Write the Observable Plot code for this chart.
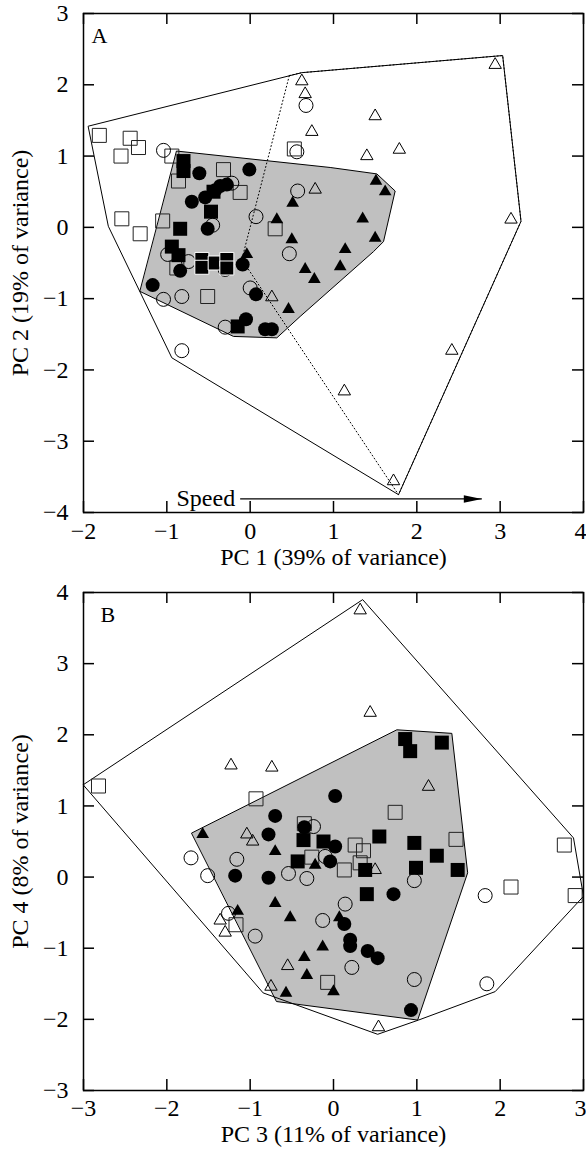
<!DOCTYPE html>
<html><head><meta charset="utf-8">
<script src="https://cdn.jsdelivr.net/npm/d3@7"></script>
<script src="https://cdn.jsdelivr.net/npm/@observablehq/plot@0.6"></script>
<style>body{margin:0;background:#fff;} #chart svg{display:block;}</style>
</head><body><div id="chart"></div>
<script>
// ---------- Panel A data (PC1, PC2) ----------
const aOpenSquares = [[-1.81,1.29],[-1.44,1.25],[-1.34,1.12],[-1.55,1.0],[-0.94,1.0],[-0.86,0.65],[-0.32,0.81],[-0.12,0.49],[0.53,1.10],[-1.54,0.12],[-1.32,-0.09],[-1.05,0.09],[0.30,-0.02],[-0.88,-0.57],[-0.51,-0.97]];
const aFilledSquares = [[-0.80,0.93],[-0.80,0.79],[-0.44,0.50],[-0.47,0.22],[-0.84,-0.02],[-0.94,-0.27],[-0.86,-0.39],[-0.15,-1.39]];
const aFilledSquaresEdged = [[-0.58,-0.45],[-0.58,-0.56],[-0.42,-0.50],[-0.28,-0.45],[-0.28,-0.57]];
const aOpenCircles = [[-1.04,1.08],[0.56,1.06],[0.67,1.71],[-0.22,0.62],[0.57,0.51],[0.07,0.15],[-0.45,0.03],[0.47,-0.37],[-0.99,-0.38],[-0.74,-0.48],[-0.30,-0.59],[0.0,-0.85],[-1.04,-1.01],[-0.82,-0.97],[-0.30,-1.40],[-0.82,-1.73]];
const aFilledCircles = [[-0.61,0.76],[-0.01,0.81],[-0.70,0.36],[-0.54,0.42],[-0.42,0.52],[-0.36,0.58],[-0.28,0.60],[-0.51,-0.02],[-0.84,-0.61],[-1.17,-0.81],[-0.09,-0.52],[0.07,-0.94],[-0.05,-1.29],[0.18,-1.43],[0.26,-1.43]];
const aOpenTriangles = [[0.62,2.05],[0.66,1.87],[0.74,1.34],[0.78,0.53],[1.50,1.56],[1.40,1.0],[1.79,1.09],[2.94,2.28],[3.13,0.11],[2.42,-1.73],[1.13,-2.30],[1.72,-3.56],[0.26,-0.98]];
const aFilledTriangles = [[0.51,0.34],[0.32,0.11],[0.50,-0.17],[-0.04,-0.38],[0.66,-0.59],[0.77,-0.73],[0.46,-1.15],[1.51,0.65],[1.62,0.50],[1.35,0.12],[1.50,-0.15],[1.14,-0.31],[1.08,-0.55]];
const aOuterHull = [[-1.94,1.42],[0.62,2.17],[3.03,2.41],[3.25,0.085],[1.78,-3.75],[-0.94,-1.83],[-1.70,0.01]];
const aFilledHull = [[-0.88,1.07],[0.96,0.84],[1.52,0.75],[1.74,0.51],[1.60,-0.20],[1.48,-0.34],[0.60,-1.25],[0.32,-1.55],[-0.20,-1.53],[-1.32,-0.90]];
const aTriangleHull = [[0.47,2.13],[0.62,2.17],[3.03,2.41],[3.25,0.085],[1.78,-3.75],[-0.10,-0.45]];
const aSpeed = [{label:"Speed", x1:-0.12, x2:2.78, y:-3.81}];

// ---------- Panel B data (PC3, PC4) ----------
const bOpenSquares = [[-2.82,1.28],[-0.93,1.10],[-0.35,0.75],[-0.26,0.28],[0.74,0.91],[1.47,0.53],[0.26,0.45],[0.36,0.37],[0.32,0.20],[0.13,0.10],[-1.17,-0.67],[-0.07,-1.48],[2.13,-0.14],[2.77,0.45],[2.90,-0.26]];
const bFilledSquares = [[0.86,1.94],[0.92,1.77],[1.30,1.89],[0.55,0.57],[0.97,0.48],[1.24,0.30],[0.99,0.13],[1.49,0.10],[0.38,0.10],[0.40,-0.24],[-0.36,0.52],[-0.12,0.50],[-0.43,0.22]];
const bOpenCircles = [[-0.24,0.71],[-0.10,0.29],[-1.71,0.27],[-1.16,0.25],[-1.51,0.02],[-0.54,0.05],[-0.32,-0.02],[0.97,-0.05],[0.14,-0.38],[-0.13,-0.61],[0.22,-1.27],[0.97,-1.44],[-1.26,-0.51],[-0.94,-0.83],[1.82,-0.26],[1.84,-1.50]];
const bFilledCircles = [[-0.70,0.86],[-0.78,0.60],[-0.35,0.70],[0.02,0.43],[-0.04,0.22],[0.02,1.14],[-1.18,0.02],[-0.78,-0.01],[0.72,-0.24],[0.13,-0.66],[0.20,-0.88],[0.20,-0.97],[0.41,-1.04],[0.53,-1.14],[0.93,-1.87]];
const bOpenTriangles = [[-1.23,1.57],[-0.74,1.54],[-1.04,0.60],[-0.97,0.50],[0.44,2.31],[0.32,3.75],[1.14,1.27],[0.50,0.10],[-0.55,-1.25],[-0.75,-1.54],[0.54,-2.11],[-1.36,-0.61],[-1.30,-0.78]];
const bFilledTriangles = [[-1.57,0.60],[-0.70,0.36],[-0.22,0.17],[-0.70,-0.37],[-0.52,-0.57],[0.07,-0.57],[-0.13,-0.98],[-0.35,-1.13],[-0.32,-1.38],[0.0,-1.61],[-0.57,-1.63],[-1.15,-0.48]];
const bOuterHull = [[-3.0,1.30],[0.35,3.90],[2.88,0.55],[3.0,-0.27],[1.94,-1.61],[1.02,-2.01],[0.53,-2.21],[-0.84,-1.63]];
const bFilledHull = [[-1.70,0.62],[0.76,2.07],[1.42,2.02],[1.61,0.06],[1.01,-2.01],[-0.68,-1.75]];

// ---------- axes ----------
const aXTicks = [-2,-1,0,1,2,3,4];
const aYTicks = [-4,-3,-2,-1,0,1,2,3];
const bXTicks = [-3,-2,-1,0,1,2,3];
const bYTicks = [-3,-2,-1,0,1,2,3,4];

const W = 586;
const FONT = "'Liberation Serif', 'Times New Roman', serif";
const FS = 24;
const X = d => d[0], Y = d => d[1];
const fmt = d3.format("d");
const arrowHead = {draw(ctx){ctx.moveTo(0,0);ctx.lineTo(-18,-3.8);ctx.lineTo(-18,3.8);ctx.closePath();}};

function panel(c) {
  const ml = 83, mr = 3, tk = 11;
  const plotW = W - ml - mr, plotH = c.height - c.mt - c.mb;
  const marks = [
    Plot.line(c.filledHull, {x: X, y: Y, curve: "linear-closed", fill: "#c0c0c0", stroke: "black", strokeWidth: 1}),
    Plot.line(c.outerHull, {x: X, y: Y, curve: "linear-closed", stroke: "black", strokeWidth: 1})
  ];
  if (c.triHull) marks.push(Plot.line(c.triHull, {x: X, y: Y, curve: "linear-closed", stroke: "black", strokeWidth: 1, strokeDasharray: "1,2.6"}));
  const open = {fill: "none", stroke: "black", strokeWidth: 1};
  const solid = {fill: "black", stroke: "none"};
  marks.push(
    Plot.dot(c.openSquares, {x: X, y: Y, symbol: "square", r: 7.9, ...open, stroke: "#222"}),
    Plot.dot(c.openCircles, {x: X, y: Y, symbol: "circle", r: 7, ...open}),
    Plot.dot(c.openTriangles, {x: X, y: Y, symbol: "triangle", r: 4.6, ...open}),
    Plot.dot(c.filledSquares, {x: X, y: Y, symbol: "square", r: 7.9, ...solid}),
    Plot.dot(c.filledCircles, {x: X, y: Y, symbol: "circle", r: 7, ...solid}),
    Plot.dot(c.filledTriangles, {x: X, y: Y, symbol: "triangle", r: 4.7, ...solid})
  );
  if (c.edgedSquares) marks.push(Plot.dot(c.edgedSquares, {x: X, y: Y, symbol: "square", r: 7.9, fill: "black", stroke: "white", strokeWidth: 1}));
  if (c.speed) {
    marks.push(
      Plot.link(c.speed, {x1: "x1", x2: "x2", y1: "y", y2: "y", stroke: "black", strokeWidth: 1.3}),
      Plot.dot(c.speed, {x: "x2", y: "y", symbol: arrowHead, fill: "black", stroke: "none"}),
      Plot.text(c.speed, {x: "x1", y: "y", text: "label", textAnchor: "end", dx: -5, dy: -1, fontSize: FS})
    );
  }
  const xMain = c.xTicks.slice(0, -1), xLast = c.xTicks.slice(-1);
  marks.push(
    Plot.frame({stroke: "black", strokeWidth: 1.5}),
    Plot.tickX(c.xTicks, {x: d => d, insetTop: plotH - tk, strokeWidth: 1.5}),
    Plot.tickX(c.xTicks, {x: d => d, insetBottom: plotH - tk, strokeWidth: 1.5}),
    Plot.tickY(c.yTicks, {y: d => d, insetRight: plotW - tk, strokeWidth: 1.5}),
    Plot.tickY(c.yTicks, {y: d => d, insetLeft: plotW - tk, strokeWidth: 1.5}),
    Plot.axisX(xMain, {anchor: "bottom", tickSize: 0, tickPadding: c.xPad, tickFormat: fmt, label: null, fontSize: FS}),
    Plot.axisX(xLast, {anchor: "bottom", tickSize: 0, tickPadding: c.xPad, tickFormat: fmt, label: null, fontSize: FS, textAnchor: "end", dx: 3}),
    Plot.axisY(c.yTicks, {anchor: "left", tickSize: 0, tickPadding: 15, tickFormat: fmt, label: null, fontSize: FS}),
    Plot.text([c.xLabel], {frameAnchor: "bottom", textAnchor: "middle", lineAnchor: "middle", dy: c.xLabelDy, fontSize: FS}),
    Plot.text([c.yLabel], {frameAnchor: "left", textAnchor: "middle", lineAnchor: "middle", rotate: -90, dx: -63, fontSize: FS}),
    Plot.text([c.letter], {frameAnchor: "top-left", textAnchor: "start", lineAnchor: "top", dx: c.letterDx, dy: c.letterDy, fontSize: 22})
  );
  return Plot.plot({
    width: W, height: c.height, marginTop: c.mt, marginBottom: c.mb, marginLeft: ml, marginRight: mr,
    x: {domain: c.xDomain}, y: {domain: c.yDomain},
    style: {fontFamily: FONT, fontSize: FS + "px", background: "white", color: "black", overflow: "visible"},
    marks
  });
}

const chart = document.getElementById("chart");
chart.appendChild(panel({
  height: 575, mt: 13, mb: 63, xDomain: [-2,4], yDomain: [-4,3], xTicks: aXTicks, yTicks: aYTicks,
  openSquares: aOpenSquares, filledSquares: aFilledSquares, edgedSquares: aFilledSquaresEdged,
  openCircles: aOpenCircles, filledCircles: aFilledCircles,
  openTriangles: aOpenTriangles, filledTriangles: aFilledTriangles,
  outerHull: aOuterHull, filledHull: aFilledHull, triHull: aTriangleHull, speed: aSpeed,
  xLabel: "PC 1 (39% of variance)", yLabel: "PC 2 (19% of variance)", xLabelDy: 45, xPad: 9,
  letter: "A", letterDx: 8, letterDy: 14
}));
chart.appendChild(panel({
  height: 576, mt: 17, mb: 61, xDomain: [-3,3], yDomain: [-3,4], xTicks: bXTicks, yTicks: bYTicks,
  openSquares: bOpenSquares, filledSquares: bFilledSquares,
  openCircles: bOpenCircles, filledCircles: bFilledCircles,
  openTriangles: bOpenTriangles, filledTriangles: bFilledTriangles,
  outerHull: bOuterHull, filledHull: bFilledHull,
  xLabel: "PC 3 (11% of variance)", yLabel: "PC 4 (8% of variance)", xLabelDy: 44, xPad: 8,
  letter: "B", letterDx: 17, letterDy: 14
}));
</script></body></html>
